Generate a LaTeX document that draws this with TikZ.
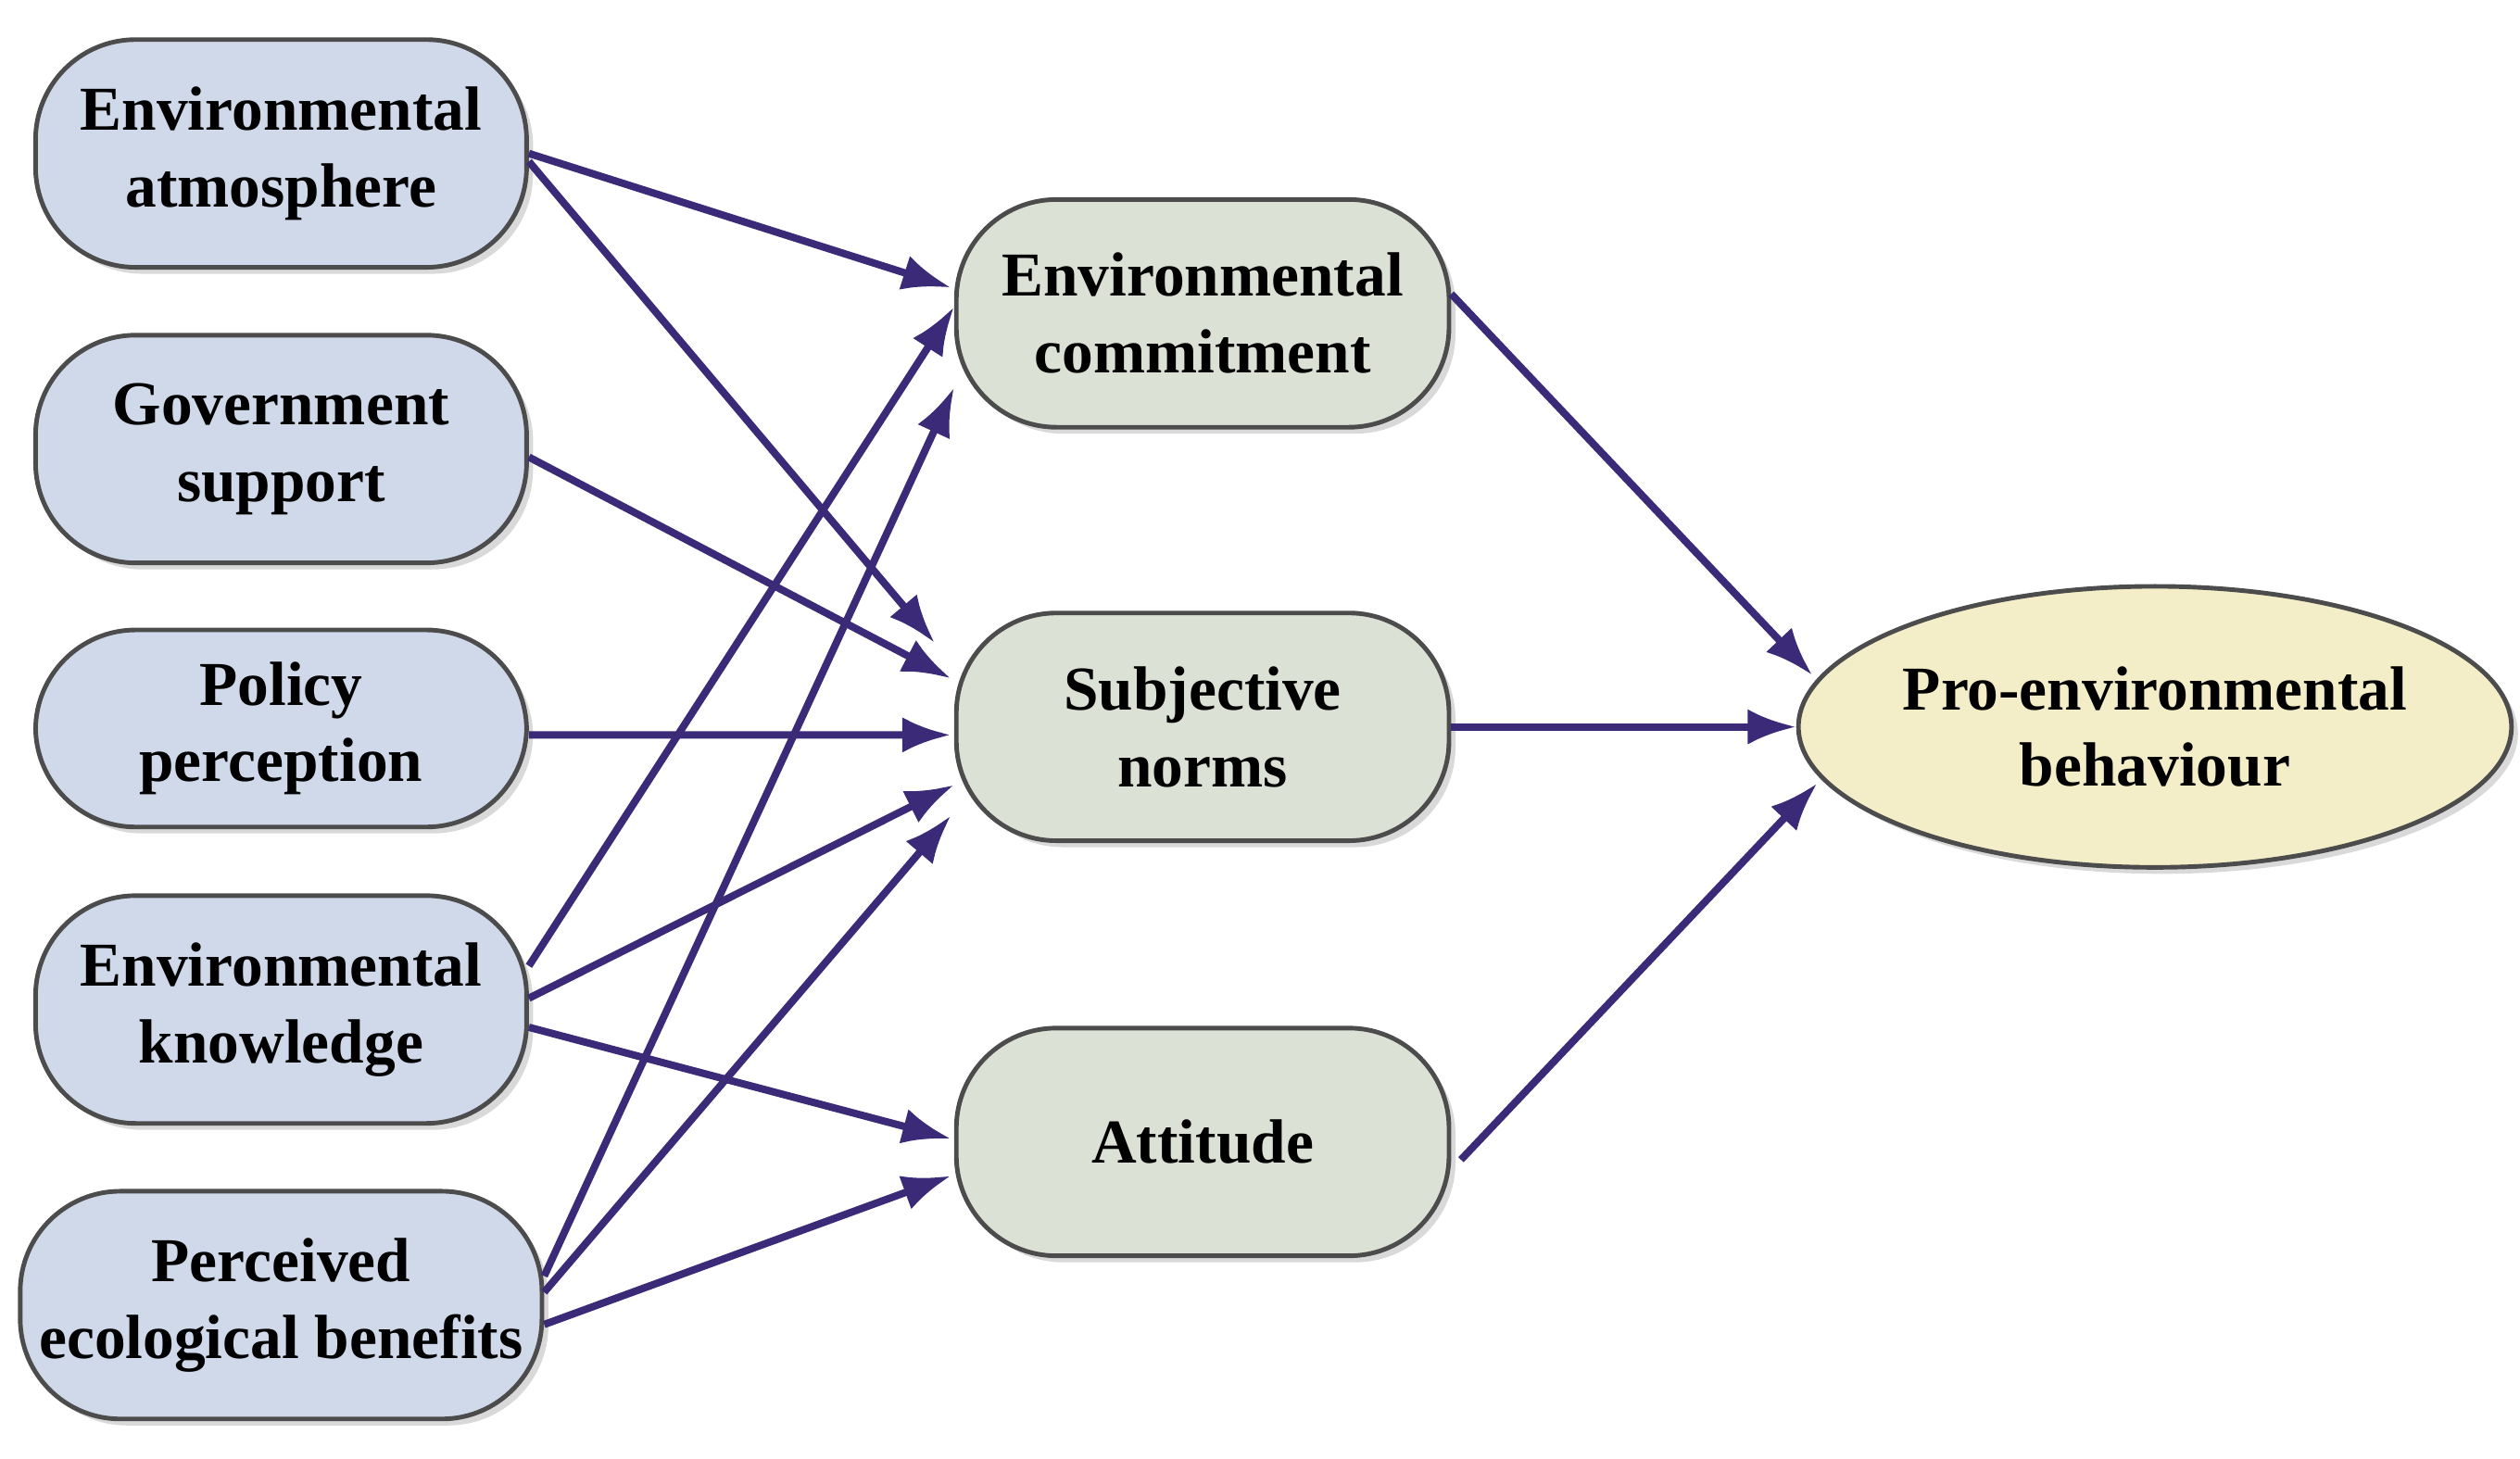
\documentclass[tikz,border=0pt]{standalone}
\usepackage{fontspec}
\setmainfont{Liberation Serif}
\usetikzlibrary{arrows.meta,shadows,shapes.geometric}
\definecolor{arrowcol}{HTML}{3A2A78}
\definecolor{leftfill}{HTML}{D0D9EA}
\definecolor{midfill}{HTML}{DCE1D6}
\definecolor{endfill}{HTML}{F3EDC8}
\begin{document}
\begin{tikzpicture}[font=\fontsize{11}{13.5}\selectfont\bfseries,
    box/.style={draw=black!70,line width=0.8pt,rounded corners=0.62cm,
      minimum width=3.04cm,minimum height=1.41cm,align=center,
      drop shadow={shadow xshift=0.04cm,shadow yshift=-0.04cm,opacity=0.3}},
    factor/.style={box,fill=leftfill},
    mediator/.style={box,fill=midfill,minimum width=3.05cm},
    outcome/.style={ellipse,draw=black!70,line width=0.8pt,fill=endfill,
      minimum width=4.18cm,minimum height=1.74cm,align=center,inner sep=0pt,
      drop shadow={shadow xshift=0.04cm,shadow yshift=-0.04cm,opacity=0.3}},
    arr/.style={-{Latex[length=0.3cm,width=0.22cm]},draw=arrowcol,line width=1.3pt}]
  \useasboundingbox (0,0) rectangle (15.6,-9.03);

  \node[factor] (EA) at (1.74,-0.95) {Environmental\\atmosphere};
  \node[factor] (GS) at (1.74,-2.78) {Government\\support};
  \node[factor,minimum height=1.22cm] (PP) at (1.74,-4.51) {Policy\\perception};
  \node[factor] (EK) at (1.74,-6.25) {Environmental\\knowledge};
  \node[factor] (PB) at (1.74,-8.08) {Perceived\\ecological benefits};

  \node[mediator] (EC) at (7.445,-1.94) {Environmental\\commitment};
  \node[mediator] (SN) at (7.445,-4.50) {Subjective\\norms};
  \node[mediator] (AT) at (7.445,-7.07) {Attitude};

  \node[outcome] (PEB) at (13.34,-4.50) {Pro-environmental\\behaviour};

  \draw[arr] (EA.east) -- ([shift={(-0.02,0.16)}]EC.west);
  \draw[arr] ([yshift=-0.05cm]EA.east) -- ([shift={(-0.12,0.52)}]SN.west);
  \draw[arr] ([yshift=-0.05cm]GS.east) -- ([shift={(-0.02,0.30)}]SN.west);
  \draw[arr] ([yshift=-0.04cm]PP.east) -- ([shift={(-0.02,-0.05)}]SN.west);
  \draw[arr] ([yshift=0.27cm]EK.east) -- ([yshift=0.04cm]EC.west);
  \draw[arr] ([yshift=0.07cm]EK.east) -- ([yshift=-0.36cm]SN.west);
  \draw[arr] ([yshift=-0.11cm]EK.east) -- ([shift={(-0.02,0.02)}]AT.west);
  \draw[arr] ([yshift=0.18cm]PB.east) -- ([yshift=-0.46cm]EC.west);
  \draw[arr] ([yshift=0.08cm]PB.east) -- ([shift={(-0.02,-0.55)}]SN.west);
  \draw[arr] ([yshift=-0.12cm]PB.east) -- ([shift={(-0.02,-0.21)}]AT.west);

  \draw[arr] ([yshift=0.12cm]EC.east) -- ([shift={(0.1,0.32)}]PEB.west);
  \draw[arr] (SN.east) -- (PEB.west);
  \draw[arr] ([shift={(0.06,-0.11)}]AT.east) -- ([shift={(0.13,-0.35)}]PEB.west);
\end{tikzpicture}
\end{document}
